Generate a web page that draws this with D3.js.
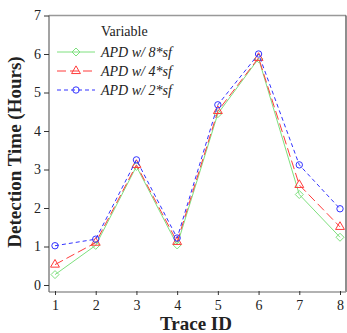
<!DOCTYPE html>
<html>
<head>
<meta charset="utf-8">
<script src="https://cdn.jsdelivr.net/npm/d3@7"></script>
<style>
body { margin: 0; background: #fff; }
svg text { font-family: "Liberation Serif", "Times New Roman", Times, serif !important; }
</style>
</head>
<body>
<svg id="chart" width="347" height="333"></svg>
<script>
var traceIds = [1, 2, 3, 4, 5, 6, 7, 8];
var apd8 = [0.27, 1.03, 3.08, 1.04, 4.45, 5.88, 2.35, 1.24];
var apd4 = [0.53, 1.1, 3.12, 1.12, 4.52, 5.9, 2.6, 1.51];
var apd2 = [1.02, 1.19, 3.25, 1.22, 4.68, 6.0, 3.12, 1.98];
var yTicks = [0, 1, 2, 3, 4, 5, 6, 7];
var seriesNames = ["APD w/ 8*sf", "APD w/ 4*sf", "APD w/ 2*sf"];

var svg = d3.select("#chart");

var x = d3.scaleLinear().domain([1, 8]).range([55, 340]);
var y = d3.scaleLinear().domain([0, 7]).range([285, 15.5]);

var series = [
  {name: seriesNames[0], values: apd8, color: "#7ee07e", dash: null, marker: "diamond"},
  {name: seriesNames[1], values: apd4, color: "#ff3b3b", dash: "9,4", marker: "triangle"},
  {name: seriesNames[2], values: apd2, color: "#3333ff", dash: "4,3", marker: "circle"}
];

// frame
svg.append("line").attr("x1", 49).attr("y1", 15.5).attr("x2", 346).attr("y2", 15.5)
  .attr("stroke", "#999").attr("stroke-width", 1.5);
svg.append("line").attr("x1", 346).attr("y1", 15.5).attr("x2", 346).attr("y2", 292)
  .attr("stroke", "#444").attr("stroke-width", 1.2);
svg.append("line").attr("x1", 49).attr("y1", 292).attr("x2", 346).attr("y2", 292)
  .attr("stroke", "#999").attr("stroke-width", 1.5);
svg.append("line").attr("x1", 49).attr("y1", 15.5).attr("x2", 49).attr("y2", 292)
  .attr("stroke", "#666").attr("stroke-width", 1.2);

// y axis
var yAxis = d3.axisLeft(y).tickValues(yTicks).tickFormat(d3.format("d")).tickSize(5).tickPadding(3);
var gy = svg.append("g").attr("transform", "translate(49,0)").call(yAxis);
gy.select(".domain").remove();
gy.selectAll("line").attr("stroke", "#333");
gy.selectAll("text").attr("font-size", 14).attr("fill", "#222");

// x axis
var xAxis = d3.axisBottom(x).tickValues(traceIds).tickFormat(d3.format("d")).tickSize(4).tickPadding(5);
var gx = svg.append("g").attr("transform", "translate(0,291)").call(xAxis);
gx.select(".domain").remove();
gx.selectAll("line").attr("stroke", "#333");
gx.selectAll("text").attr("font-size", 14).attr("fill", "#222");

// axis titles
svg.append("text").attr("x", 196).attr("y", 330).attr("text-anchor", "middle")
  .attr("font-size", 19).attr("font-weight", "bold").attr("fill", "#222").text("Trace ID");
svg.append("text").attr("transform", "translate(21,152) rotate(-90)").attr("text-anchor", "middle")
  .attr("font-size", 19).attr("font-weight", "bold").attr("fill", "#222").text("Detection Time (Hours)");

function drawMarker(g, type, cx, cy, color) {
  if (type === "circle") {
    g.append("circle").attr("cx", cx).attr("cy", cy).attr("r", 3.2)
      .attr("fill", "none").attr("stroke", color).attr("stroke-width", 1);
  } else if (type === "triangle") {
    g.append("path").attr("d", d3.symbol().type(d3.symbolTriangle).size(34)())
      .attr("transform", "translate(" + cx + "," + cy + ")")
      .attr("fill", "none").attr("stroke", color).attr("stroke-width", 1);
  } else {
    g.append("path").attr("d", "M0,-4L4,0L0,4L-4,0Z")
      .attr("transform", "translate(" + cx + "," + cy + ")")
      .attr("fill", "none").attr("stroke", color).attr("stroke-width", 1);
  }
}

var line = d3.line()
  .x(function(d, i) { return x(traceIds[i]); })
  .y(function(d) { return y(d); });

series.forEach(function(s) {
  var g = svg.append("g");
  g.append("path").attr("d", line(s.values))
    .attr("fill", "none").attr("stroke", s.color).attr("stroke-width", 1)
    .attr("stroke-dasharray", s.dash);
  s.values.forEach(function(v, i) {
    drawMarker(g, s.marker, x(traceIds[i]), y(v), s.color);
  });
});

// legend
svg.append("text").attr("x", 101).attr("y", 36).attr("font-size", 14).attr("fill", "#222").text("Variable");
series.forEach(function(s, i) {
  var ly = 52 + i * 19;
  var g = svg.append("g");
  g.append("line").attr("x1", 57).attr("y1", ly).attr("x2", 95).attr("y2", ly)
    .attr("stroke", s.color).attr("stroke-width", 1).attr("stroke-dasharray", s.dash);
  drawMarker(g, s.marker, 76, ly, s.color);
  g.append("text").attr("x", 101).attr("y", ly + 5).attr("font-size", 14)
    .attr("font-style", "italic").attr("fill", "#222").text(s.name);
});
</script>
</body>
</html>
